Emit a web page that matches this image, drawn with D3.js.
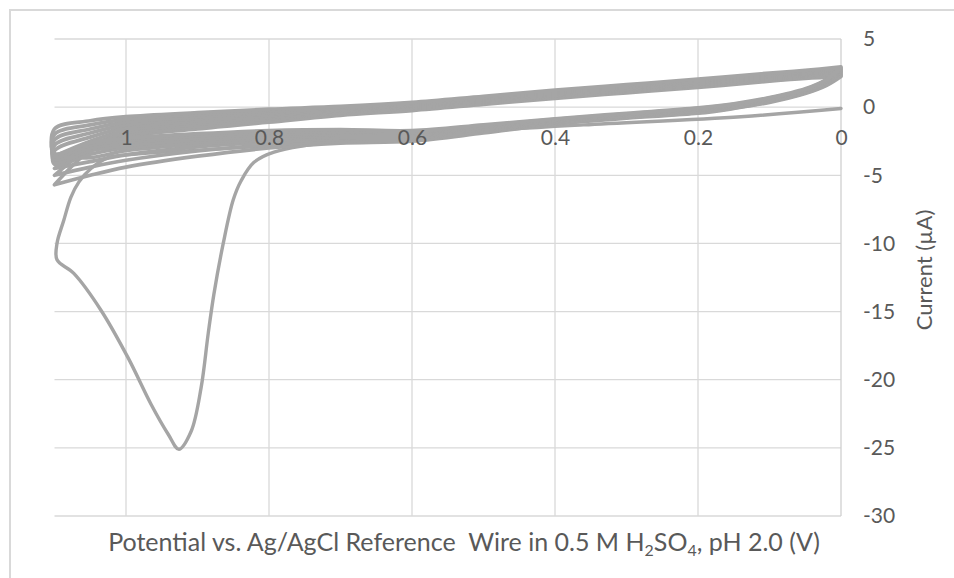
<!DOCTYPE html>
<html><head><meta charset="utf-8">
<script src="https://cdn.jsdelivr.net/npm/d3@7"></script>
<style>
body{margin:0;background:#fff}
svg{display:block}
text{font-family:Lato,"Open Sans",sans-serif;fill:#595959}
</style>
</head><body>
<svg id="c" width="954" height="578"></svg>
<script>
// ---- data ----
const xTicks = [1, 0.8, 0.6, 0.4, 0.2, 0];
const yTicks = [5, 0, -5, -10, -15, -20, -25, -30];
const xTitle = ["Potential vs. Ag/AgCl Reference\u00A0 Wire in 0.5 M H", "2", "SO", "4", ", pH 2.0 (V)"];
const yTitle = "Current (\u00B5A)";

// potentials of the repeated scans (V)
const scanOut  = [0, 0.05, 0.1, 0.2, 0.3, 0.4, 0.5, 0.6, 0.7, 0.8, 0.9, 1.0, 1.05, 1.1];
const scanBack = [1.1, 1.05, 1.0, 0.9, 0.8, 0.7, 0.6, 0.5, 0.4, 0.3, 0.2, 0.15, 0.1, 0.05, 0.02, 0];

// currents (µA) of the repeated cycles: outward scan, then return scan
const cycleAOut  = [2.95, 2.7, 2.5, 2.05, 1.65, 1.25, 0.8, 0.35, 0.05, -0.15, -0.4, -0.7, -1.0, -1.6];
const cycleABack = [-3.4, -2.6, -2.3, -1.95, -1.72, -1.65, -1.72, -1.3, -0.85, -0.45, -0.05, 0.25, 0.7, 1.35, 2.05, 2.95];
const cycleBOut  = [2.85, 2.62, 2.42, 1.97, 1.57, 1.17, 0.72, 0.27, -0.05, -0.28, -0.55, -0.9, -1.3, -2.0];
const cycleBBack = [-3.6, -2.8, -2.45, -2.1, -1.85, -1.76, -1.8, -1.37, -0.9, -0.5, -0.1, 0.2, 0.66, 1.3, 2.0, 2.85];
const cycleCOut  = [2.78, 2.55, 2.35, 1.9, 1.5, 1.1, 0.65, 0.2, -0.12, -0.4, -0.7, -1.1, -1.6, -2.4];
const cycleCBack = [-3.8, -3.0, -2.6, -2.25, -2.0, -1.87, -1.88, -1.45, -0.95, -0.55, -0.15, 0.16, 0.62, 1.26, 1.95, 2.78];
const cycleDOut  = [2.7, 2.48, 2.28, 1.82, 1.42, 1.02, 0.57, 0.12, -0.2, -0.5, -0.84, -1.3, -1.9, -2.8];
const cycleDBack = [-4.0, -3.2, -2.8, -2.4, -2.14, -1.98, -1.96, -1.52, -1.0, -0.6, -0.2, 0.12, 0.58, 1.22, 1.9, 2.7];
const cycleEOut  = [2.62, 2.42, 2.2, 1.75, 1.35, 0.95, 0.5, 0.05, -0.28, -0.62, -0.98, -1.5, -2.2, -3.2];
const cycleEBack = [-4.2, -3.45, -3.0, -2.56, -2.28, -2.1, -2.05, -1.6, -1.05, -0.65, -0.25, 0.08, 0.54, 1.18, 1.85, 2.62];
const cycleFOut  = [2.55, 2.35, 2.12, 1.67, 1.27, 0.87, 0.42, -0.03, -0.36, -0.74, -1.12, -1.7, -2.5, -3.6];
const cycleFBack = [-3.6, -3.7, -3.2, -2.72, -2.42, -2.22, -2.14, -1.67, -1.1, -0.68, -0.3, 0.03, 0.5, 1.14, 1.8, 2.55];
const cycleGOut  = [2.45, 2.27, 2.05, 1.6, 1.2, 0.8, 0.35, -0.1, -0.44, -0.86, -1.26, -1.9, -2.8, -4.5];
const cycleGBack = [-4.5, -4.0, -3.5, -2.92, -2.58, -2.35, -2.25, -1.75, -1.15, -0.72, -0.35, -0.02, 0.45, 1.1, 1.73, 2.45];
const cycleHOut  = [2.35, 2.18, 1.97, 1.52, 1.12, 0.72, 0.27, -0.18, -0.52, -0.98, -1.42, -2.05, -3.0, -5.0];
const cycleHBack = [-5.0, -4.4, -3.9, -3.22, -2.78, -2.5, -2.37, -1.82, -1.2, -0.76, -0.4, -0.06, 0.4, 1.05, 1.66, 2.35];
const cycleIOut  = [2.25, 2.1, 1.9, 1.45, 1.05, 0.65, 0.2, -0.25, -0.6, -1.1, -1.6, -2.2, -3.2, -5.7];
const cycleIBack = [-5.7, -5.0, -4.4, -3.6, -3.0, -2.65, -2.5, -1.9, -1.25, -0.8, -0.45, -0.1, 0.35, 1.0, 1.6, 2.25];

// first scan, with the large reduction peak
const firstV = [0, 0.14, 0.36, 0.5, 0.6, 0.7, 0.8, 0.9, 1.0, 1.025, 1.049, 1.066, 1.077, 1.087, 1.0965, 1.0965,
  1.073, 1.035, 0.997, 0.965, 0.941, 0.926, 0.909, 0.895, 0.885, 0.877, 0.864, 0.85, 0.839, 0.821, 0.793,
  0.7, 0.6, 0.5, 0.4, 0.3, 0.2, 0.15, 0.1, 0.05, 0.02, 0];
const firstI = [-0.1, -0.7, -1.3, -1.75, -2.2, -2.55, -2.85, -3.15, -3.5, -3.7, -4.5, -5.5, -6.6, -8.3, -10.0, -11.2,
  -12.2, -14.9, -18.4, -21.8, -24.0, -25.1, -23.8, -20.6, -16.6, -13.7, -10.0, -6.8, -5.4, -4.05, -3.3,
  -2.5, -2.35, -1.8, -1.15, -0.75, -0.4, -0.05, 0.4, 1.05, 1.7, 2.4];

// ---- drawing ----
const svg = d3.select('#c');
const x = d3.scaleLinear().domain([1.1, 0]).range([54.5, 841]);
const y = d3.scaleLinear().domain([5, -30]).range([39, 516]);
const grid = '#d9d9d9', lineCol = '#a5a5a5';

svg.append('rect').attr('x', 10).attr('y', 10).attr('width', 1000).attr('height', 1000)
  .attr('fill', 'none').attr('stroke', grid).attr('stroke-width', 2);

const gGrid = svg.append('g');
gGrid.selectAll('line.h').data(yTicks).join('line').attr('class', 'h')
  .attr('x1', x(1.1)).attr('x2', x(0)).attr('y1', d => y(d)).attr('y2', d => y(d))
  .attr('stroke', grid).attr('stroke-width', 1.3);
gGrid.selectAll('line.v').data(xTicks).join('line').attr('class', 'v')
  .attr('x1', d => x(d)).attr('x2', d => x(d)).attr('y1', y(5)).attr('y2', y(-30))
  .attr('stroke', d => d === 0 ? '#d0d0d0' : grid).attr('stroke-width', 1.3);

const zip = (vs, is) => vs.map((v, i) => [v, is[i]]);
const outs  = [cycleIOut, cycleHOut, cycleGOut, cycleFOut, cycleEOut, cycleDOut, cycleCOut, cycleBOut, cycleAOut];
const backs = [cycleIBack, cycleHBack, cycleGBack, cycleFBack, cycleEBack, cycleDBack, cycleCBack, cycleBBack, cycleABack];
const cycles = outs.map((o, i) => zip(scanOut, o).concat(zip(scanBack, backs[i])));
const first = zip(firstV, firstI);

const line = d3.line().x(d => x(d[0])).y(d => y(d[1])).curve(d3.curveCatmullRom.alpha(0.5));
const gS = svg.append('g').attr('fill', 'none').attr('stroke', lineCol)
  .attr('stroke-linejoin', 'round').attr('stroke-linecap', 'round');
gS.append('path').attr('d', line(first)).attr('stroke-width', 3.4);
cycles.forEach(c => gS.append('path').attr('d', line(c)).attr('stroke-width', 3.7));

// axes
const xAxis = svg.append('g').attr('transform', `translate(0,${y(0)})`)
  .call(d3.axisBottom(x).tickValues(xTicks).tickSize(0).tickPadding(23).tickFormat(d => String(d)));
xAxis.select('.domain').remove();
xAxis.selectAll('text').style('font-size', '21px').attr('fill', '#595959');

const yAxis = svg.append('g').attr('transform', `translate(${x(0)},0)`)
  .call(d3.axisRight(y).tickValues(yTicks).tickSize(0).tickPadding(22).tickFormat(d => String(d)));
yAxis.select('.domain').remove();
yAxis.selectAll('text').style('font-size', '21px').attr('fill', '#595959');

// axis titles
svg.append('text').attr('transform', 'translate(924,270) rotate(-90)')
  .attr('text-anchor', 'middle').attr('dy', '0.35em').style('font-size', '22px').text(yTitle);

const xt = svg.append('text').attr('x', 464).attr('y', 551).attr('text-anchor', 'middle').style('font-size', '22px');
xTitle.forEach((s, i) => {
  const sub = (i === 1 || i === 3);
  xt.append('tspan').text(s)
    .style('font-size', sub ? '14px' : '22px')
    .attr('dy', sub ? 5 : (i === 0 ? 0 : -5));
});
// fit title width to the reference span
const w = xt.node().getComputedTextLength();
const k = 712 / w;
xt.selectAll('tspan').each(function (d, i) {
  const sub = (i === 1 || i === 3);
  d3.select(this).style('font-size', ((sub ? 14 : 22) * k).toFixed(2) + 'px');
});
</script>
</body></html>
